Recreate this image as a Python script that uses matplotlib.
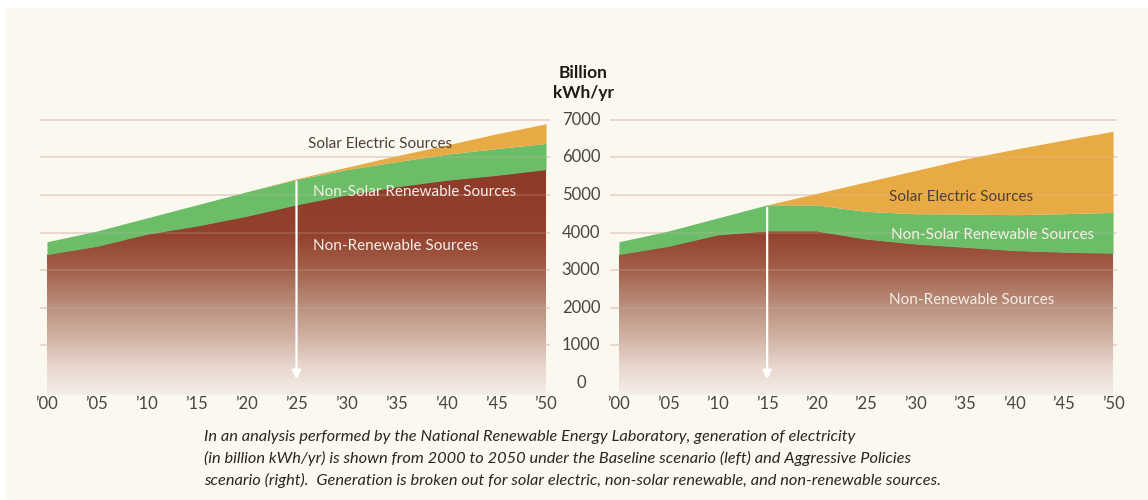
import numpy as np
import matplotlib
matplotlib.use("Agg")
import matplotlib.pyplot as plt
from matplotlib.colors import LinearSegmentedColormap
from matplotlib.patches import Rectangle
from matplotlib.transforms import blended_transform_factory

# Data (billion kWh/yr)
years = [2000, 2005, 2010, 2015, 2020, 2025, 2030, 2035, 2040, 2045, 2050]
year_labels = ["\u201900", "\u201905", "\u201910", "\u201915", "\u201920", "\u201925",
               "\u201930", "\u201935", "\u201940", "\u201945", "\u201950"]
y_ticks = [0, 1000, 2000, 3000, 4000, 5000, 6000, 7000]

# Baseline scenario (left)
base_nonren = [3417, 3635, 3957, 4174, 4435, 4739, 5000, 5217, 5391, 5522, 5678]
base_renew = [340, 408, 434, 565, 652, 676, 678, 670, 696, 713, 696]
base_solar = [0, 0, 0, 0, 0, 20, 61, 156, 243, 391, 522]

# Aggressive policies scenario (right)
aggr_nonren = [3417, 3635, 3939, 4043, 4043, 3826, 3696, 3609, 3522, 3478, 3452]
aggr_renew = [340, 408, 452, 696, 696, 739, 808, 887, 956, 1026, 1087]
aggr_solar = [0, 0, 0, 0, 304, 783, 1148, 1461, 1739, 1957, 2157]

arrow_years = [2025, 2015]

caption = ("In an analysis performed by the National Renewable Energy Laboratory, generation of electricity\n"
           "(in billion kWh/yr) is shown from 2000 to 2050 under the Baseline scenario (left) and Aggressive Policies\n"
           "scenario (right).  Generation is broken out for solar electric, non-solar renewable, and non-renewable sources.")

BG = "#FBF8EF"
ORANGE = "#E8AA44"
GREEN = "#6CBD68"
GRID = "#EDDDD6"
FONT = ["Lato", "DejaVu Sans"]

brown = LinearSegmentedColormap.from_list("brown", [
    (0.00, "#F6EEE8"),
    (0.10, "#E8D7CE"),
    (0.20, "#D2B4A6"),
    (0.33, "#B88C79"),
    (0.46, "#A25E48"),
    (0.58, "#93422E"),
    (1.00, "#8A3323"),
])

fig = plt.figure(figsize=(11.48, 5.0), dpi=100)
fig.patch.set_facecolor("white")
fig.patches.append(Rectangle((6 / 1148, 0), 1, 1 - 8 / 500, transform=fig.transFigure,
                             facecolor=BG, edgecolor="none", zorder=-10))

ymin, ymax = -320, 7050
ax1 = fig.add_axes([40 / 1148, 0.21, 510 / 1148, 0.554])
ax2 = fig.add_axes([610 / 1148, 0.21, 507 / 1148, 0.554])


def draw(ax, nonren, renew, solar, arrow_year, xlim):
    ax.set_facecolor("none")
    nonren = np.array(nonren, float)
    green_top = nonren + np.array(renew, float)
    total = green_top + np.array(solar, float)

    for v in y_ticks[1:]:
        ax.axhline(v, color=GRID, lw=1.4, zorder=0)

    poly = ax.fill_between(years, ymin, nonren, facecolor="none", edgecolor="none", zorder=1)
    grad = np.linspace(0, 1, 256).reshape(-1, 1)
    im = ax.imshow(grad, cmap=brown, origin="lower", aspect="auto",
                   extent=[years[0], years[-1], ymin, ymax], zorder=1)
    im.set_clip_path(poly.get_paths()[0], transform=ax.transData)
    ax.fill_between(years, nonren, green_top, color=GREEN, lw=0, zorder=2)
    ax.fill_between(years, green_top, total, color=ORANGE, lw=0, zorder=2)

    for v in y_ticks[1:]:
        ax.axhline(v, color="#D8C2B8", lw=1.2, alpha=0.22, zorder=3)

    top = np.interp(arrow_year, years, total)
    ax.annotate("", xy=(arrow_year, 20), xytext=(arrow_year, top),
                arrowprops=dict(arrowstyle="-|>", color="white", lw=1.6, mutation_scale=13),
                zorder=4)

    ax.set_xticks(years, year_labels)
    ax.set_yticks([])
    ax.tick_params(axis="x", length=0, pad=1, labelsize=12, labelcolor="#4A4440")
    for lab in ax.get_xticklabels():
        lab.set_family(FONT)
    for s in ax.spines.values():
        s.set_visible(False)
    ax.set_xlim(*xlim)
    ax.set_ylim(ymin, ymax)


draw(ax1, base_nonren, base_renew, base_solar, arrow_years[0], (1999.3, 2050.4))
draw(ax2, aggr_nonren, aggr_renew, aggr_solar, arrow_years[1], (1999.1, 2050.4))

# in-chart labels
ax1.text(2026.2, 6370, "Solar Electric Sources", family=FONT, fontsize=11, color="#4E4038", va="center")
ax1.text(2026.7, 5080, "Non-Solar Renewable Sources", family=FONT, fontsize=11, color="#F4EEE6", va="center")
ax1.text(2026.7, 3640, "Non-Renewable Sources", family=FONT, fontsize=11, color="#F4EEE6", va="center")
ax2.text(2027.3, 4940, "Solar Electric Sources", family=FONT, fontsize=11, color="#4E4038", va="center")
ax2.text(2027.5, 3930, "Non-Solar Renewable Sources", family=FONT, fontsize=11, color="#F4EEE6", va="center")
ax2.text(2027.3, 2200, "Non-Renewable Sources", family=FONT, fontsize=11, color="#F4EEE6", va="center")

# y axis labels between the panels
tr = blended_transform_factory(fig.transFigure, ax2.transData)
for v in y_ticks:
    ax2.text(581 / 1148, v, str(v), transform=tr, ha="center", va="center",
             family=FONT, fontsize=12, color="#4A4440")
fig.text(583 / 1148, 1 - 83 / 500, "Billion\nkWh/yr", ha="center", va="center", family=FONT,
         fontsize=12.5, fontweight="bold", color="#1E1A18", linespacing=1.35)

fig.text(204 / 1148, 1 - 459 / 500, caption, ha="left", va="center", family=FONT,
         style="italic", fontsize=11.8, color="#2A2624", linespacing=1.55)

fig.savefig("out.png", dpi=100, facecolor=fig.get_facecolor())
